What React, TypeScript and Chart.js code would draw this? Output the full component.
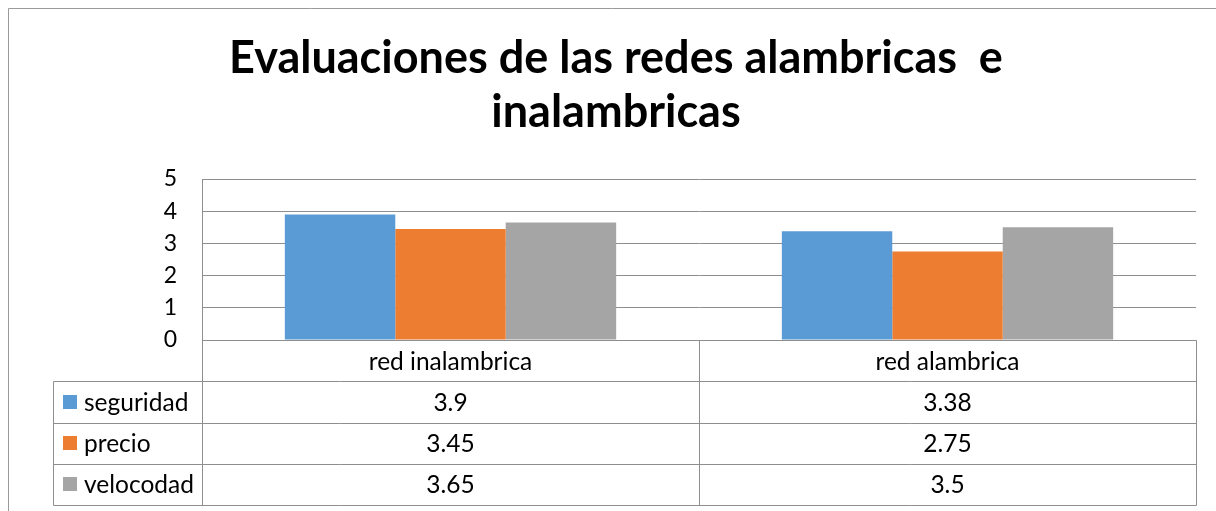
import React, { useEffect, useRef } from "react";
import { Chart, registerables } from "chart.js";

Chart.register(...registerables);

const categories = ["red inalambrica", "red alambrica"];
const seriesNames = ["seguridad", "precio", "velocodad"];
const seguridad = [3.9, 3.38];
const precio = [3.45, 2.75];
const velocodad = [3.65, 3.5];
const valueLabels = [
  ["3.9", "3.38"],
  ["3.45", "2.75"],
  ["3.65", "3.5"],
];
const yTicks = [0, 1, 2, 3, 4, 5];
const titleLines = ["Evaluaciones de las redes alambricas  e", "inalambricas"];
const seriesColors = ["#5B9BD5", "#ED7D31", "#A5A5A5"];

const FONT = "Lato";
const LINE = "#8e8e8e";

export default function App() {
  const ref = useRef<HTMLCanvasElement>(null);

  useEffect(() => {
    const canvas = ref.current!;
    const seriesData = [seguridad, precio, velocodad];

    const decorPlugin = {
      id: "excelDecor",
      afterDraw(chart: any) {
        const ctx = chart.ctx as CanvasRenderingContext2D;
        const { left, right, bottom } = chart.chartArea;
        const xs = chart.scales.x;
        ctx.save();
        // outer chart border
        ctx.strokeStyle = "#9a9a9a";
        ctx.lineWidth = 1;
        ctx.beginPath();
        ctx.moveTo(8.5, 520);
        ctx.lineTo(8.5, 8.5);
        ctx.lineTo(1230, 8.5);
        ctx.stroke();

        // title
        ctx.fillStyle = "#000";
        ctx.font = `bold 45px ${FONT}`;
        ctx.textAlign = "center";
        ctx.textBaseline = "alphabetic";
        ctx.fillText(titleLines[0], 616, 73);
        ctx.fillText(titleLines[1], 616, 127);

        // data table
        const c0 = xs.getPixelForValue(0);
        const c1 = xs.getPixelForValue(1);
        const mid = (c0 + c1) / 2;
        const rowH = 41.25;
        const legLeft = 53;
        const rows = seriesNames.length;
        const tableBottom = bottom + rowH * (rows + 1);
        const px = (v: number) => Math.round(v) + 0.5;

        ctx.strokeStyle = LINE;
        ctx.lineWidth = 1;
        ctx.beginPath();
        ctx.moveTo(px(left), px(bottom));
        ctx.lineTo(px(right), px(bottom));
        for (let r = 1; r <= rows + 1; r++) {
          const y = px(bottom + rowH * r);
          ctx.moveTo(px(legLeft), y);
          ctx.lineTo(px(right), y);
        }
        [left, mid, right].forEach((x) => {
          ctx.moveTo(px(x), px(bottom));
          ctx.lineTo(px(x), px(tableBottom));
        });
        ctx.moveTo(px(legLeft), px(bottom + rowH));
        ctx.lineTo(px(legLeft), px(tableBottom));
        ctx.stroke();

        ctx.font = `24.5px ${FONT}`;
        ctx.fillStyle = "#000";
        ctx.textBaseline = "middle";
        ctx.textAlign = "center";
        const centers = [(left + mid) / 2, (mid + right) / 2];
        categories.forEach((c, i) => {
          ctx.fillText(c, centers[i], bottom + rowH / 2 + 1);
        });
        seriesNames.forEach((name, r) => {
          const yc = bottom + rowH * (r + 1) + rowH / 2;
          ctx.fillStyle = seriesColors[r];
          ctx.fillRect(63, Math.round(yc - 7), 14, 14);
          ctx.fillStyle = "#000";
          ctx.textAlign = "left";
          ctx.fillText(name, 84, yc + 1);
          ctx.textAlign = "center";
          valueLabels[r].forEach((v, i) => {
            ctx.fillText(v, centers[i], yc + 1);
          });
        });
        ctx.restore();
      },
    };

    const chart = new Chart(canvas, {
      type: "bar",
      data: {
        labels: categories,
        datasets: seriesNames.map((name, i) => ({
          label: name,
          data: seriesData[i],
          backgroundColor: seriesColors[i],
          borderWidth: 0,
          categoryPercentage: 2 / 3,
          barPercentage: 1,
        })),
      },
      options: {
        responsive: false,
        animation: false,
        events: [],
        layout: { padding: { top: 179, bottom: 171, left: 0, right: 20 } },
        plugins: {
          legend: { display: false },
          title: { display: false },
          tooltip: { enabled: false },
        },
        scales: {
          x: { display: false },
          y: {
            min: 0,
            max: 5,
            afterBuildTicks: (s: any) => {
              s.ticks = yTicks.map((v) => ({ value: v }));
            },
            afterFit: (s: any) => {
              s.width = 202;
            },
            ticks: {
              color: "#000",
              padding: 25,
              font: { family: FONT, size: 23 },
            },
            grid: { color: LINE, lineWidth: 1, drawTicks: false },
            border: { display: true, color: LINE, width: 1 },
          },
        },
      },
      plugins: [decorPlugin],
    } as any);
    return () => chart.destroy();
  }, []);

  return (
    <div style={{ position: "fixed", left: 0, top: 0, width: 1216, height: 511, background: "#fff" }}>
      <canvas ref={ref} width={1216} height={511} style={{ display: "block", width: 1216, height: 511 }} />
    </div>
  );
}
